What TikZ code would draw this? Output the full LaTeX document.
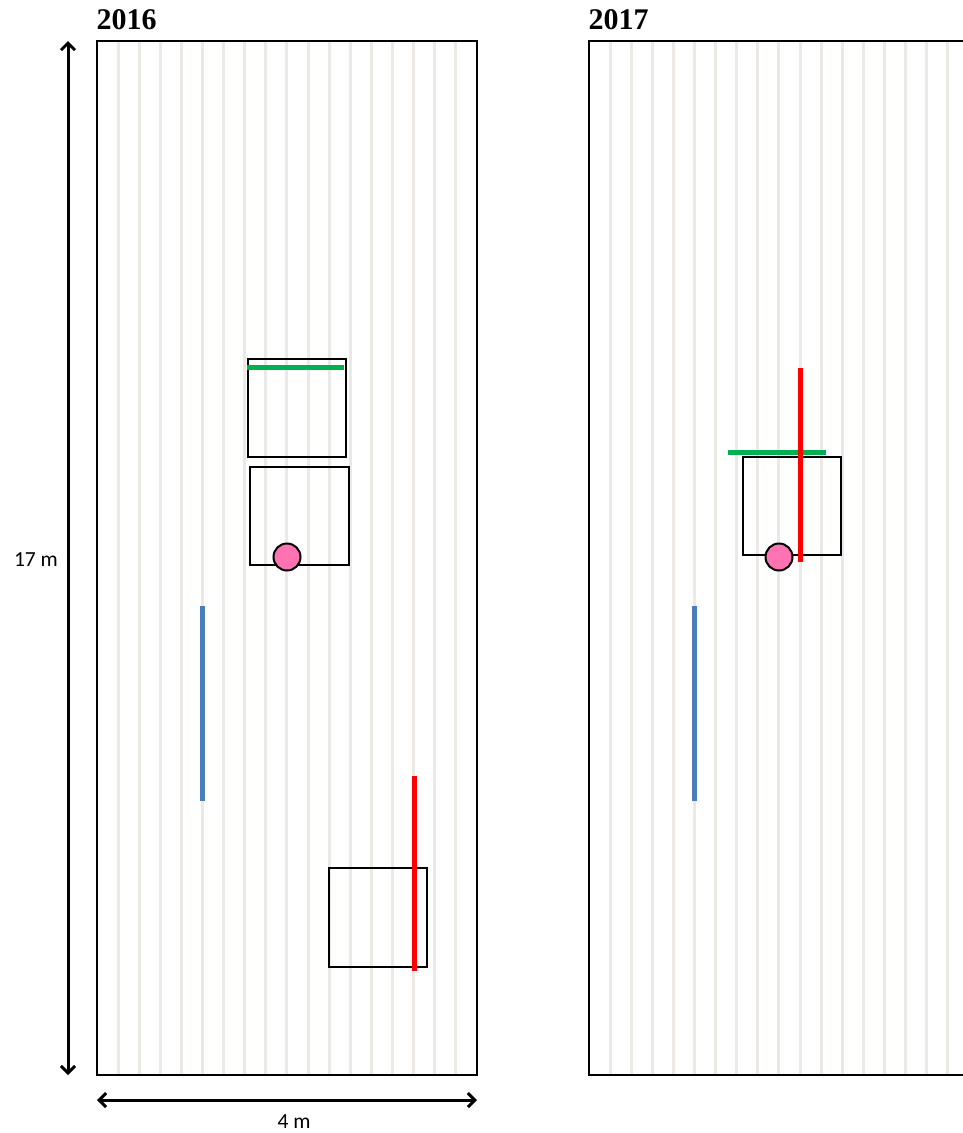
\documentclass[tikz,border=0pt]{standalone}
\usepackage{fontspec}
\usetikzlibrary{arrows.meta}
\newfontfamily\titlefont{Liberation Serif}
\newfontfamily\labelfont{Carlito}
\definecolor{rowgray}{HTML}{ECE9E4}
\definecolor{plotgreen}{HTML}{00B050}
\definecolor{plotred}{HTML}{FF0000}
\definecolor{plotblue}{HTML}{4A7EBB}
\definecolor{plotpink}{HTML}{FF73B3}
\tikzset{
  panel/.style={draw=black, line width=2pt},
  rowline/.style={draw=rowgray, line width=3pt},
  quadrat/.style={draw=black, line width=2pt},
  transect/.style={line width=5pt},
  pit/.style={circle, draw=black, line width=2pt, fill=plotpink, minimum size=27pt, inner sep=0pt},
  dimarrow/.style={line width=3pt, {Straight Barb[length=7pt,width=14pt]}-{Straight Barb[length=7pt,width=14pt]}},
  yearlabel/.style={font=\titlefont\bfseries\fontsize{30}{32}\selectfont, anchor=base west, inner sep=0pt},
  dimlabel/.style={font=\labelfont\fontsize{21.5}{24}\selectfont, anchor=base, inner sep=0pt}
}
\begin{document}
\begin{tikzpicture}[x=1pt,y=-1pt]
\useasboundingbox (0,0) rectangle (962,1133);
% row lines
\foreach \k in {1,...,17} {
  \draw[rowline] ({97+\k*21.11},41) -- ({97+\k*21.11},1075);
  \draw[rowline] ({589+\k*21.11},41) -- ({589+\k*21.11},1075);
}
% panels
\draw[panel] (97,41) rectangle (477,1075);
\draw[panel] (589,41) rectangle (969,1075);
% titles
\node[yearlabel] (t2016) at (96.5,29) {2016};
\node[yearlabel] (t2017) at (588.5,29) {2017};
% dimension arrows
\coordinate (vtop) at (68,41);
\coordinate (vbot) at (68,1075);
\draw[dimarrow] (vtop) -- (vbot);
\node[dimlabel] (l17) at (36,566) {17 m};
\coordinate (hleft) at (97,1100);
\coordinate (hright) at (477,1100);
\draw[dimarrow] (hleft) -- (hright);
\node[dimlabel] (l4) at (294,1128) {4 m};
% 2016 contents
\draw[quadrat] (248,359) rectangle (346,457);
\draw[transect, plotgreen] (247,367) -- (344,367);
\draw[quadrat] (250,467) rectangle (349,565);
\node[pit] (pit2016) at (287,557) {};
\draw[transect, plotblue] (202.7,606) -- (202.7,801);
\draw[quadrat] (329,868) rectangle (427,967);
\draw[transect, plotred] (414,776) -- (414,971);
% 2017 contents
\draw[quadrat] (743,457) rectangle (841,555);
\draw[transect, plotgreen] (728,452) -- (826,452);
\node[pit] (pit2017) at (779,557) {};
\draw[transect, plotred] (800.3,368) -- (800.3,562);
\draw[transect, plotblue] (694.5,606) -- (694.5,801);
\end{tikzpicture}
\end{document}
